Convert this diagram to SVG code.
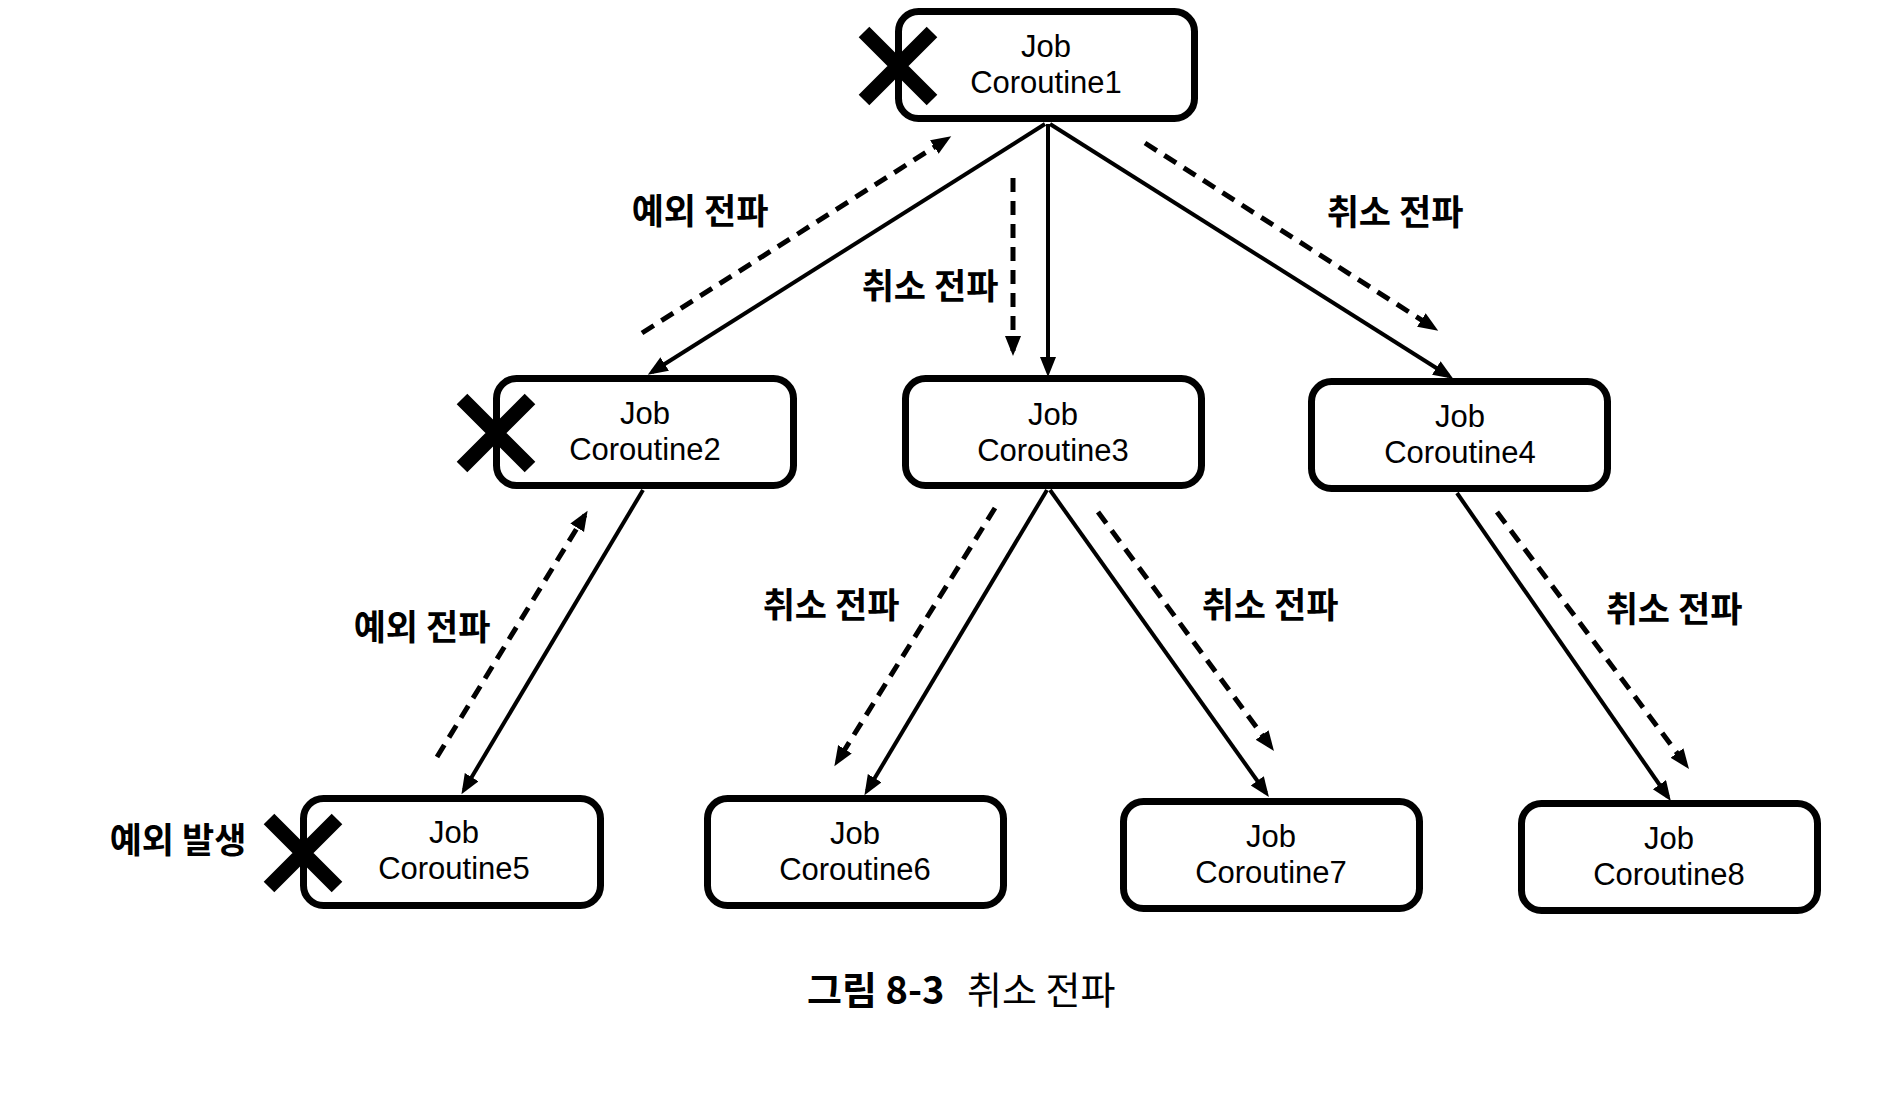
<svg xmlns="http://www.w3.org/2000/svg" width="1902" height="1096" viewBox="0 0 1902 1096">
<style>
.box{fill:#fff;stroke:#000;stroke-width:7}
.nt{font-family:"Liberation Sans",Arial,sans-serif;font-size:31px;text-anchor:middle;fill:#000}
.solid{stroke:#000;stroke-width:4;fill:none;marker-end:url(#ah)}
.dash{stroke:#000;stroke-width:5;fill:none;stroke-dasharray:14 9;marker-end:url(#ah)}
.lbl{font-family:"Noto Sans CJK KR","Noto Sans",sans-serif;font-size:35px;font-weight:bold;text-anchor:middle;fill:#000}
.x{stroke:#000;stroke-width:15;stroke-linecap:butt}
.cap{font-family:"Noto Sans CJK KR","Noto Sans",sans-serif;font-size:38px;fill:#000}
</style>
<defs>
<marker id="ah" markerUnits="userSpaceOnUse" markerWidth="22" markerHeight="18" refX="15" refY="8" orient="auto">
<path d="M0,0 L20,8 L0,16 z" fill="#000"/>
</marker>
</defs>
<rect width="1902" height="1096" fill="#fff"/>
<g id="connectors">
<line class="solid" x1="1045" y1="124" x2="652" y2="372"/>
<line class="solid" x1="1048" y1="124" x2="1048" y2="372"/>
<line class="solid" x1="1050" y1="124" x2="1449" y2="376"/>
<line class="solid" x1="643" y1="490" x2="464" y2="790"/>
<line class="solid" x1="1047" y1="490" x2="867" y2="791"/>
<line class="solid" x1="1050" y1="490" x2="1266" y2="793"/>
<line class="solid" x1="1457" y1="493" x2="1668" y2="797"/>
<line class="dash" x1="642" y1="333" x2="947" y2="139"/>
<line class="dash" x1="1013" y1="178" x2="1013" y2="351"/>
<line class="dash" x1="1145" y1="143" x2="1434" y2="328"/>
<line class="dash" x1="437" y1="757" x2="585" y2="515"/>
<line class="dash" x1="995" y1="508" x2="837" y2="762"/>
<line class="dash" x1="1098" y1="512" x2="1271" y2="747"/>
<line class="dash" x1="1497" y1="512" x2="1686" y2="765"/>
</g>
<g id="node-c1"><rect class="box" x="898.5" y="11.5" width="296" height="107" rx="20"/><text class="nt" x="1046" y="57">Job</text><text class="nt" x="1046" y="93">Coroutine1</text></g>
<g id="node-c2"><rect class="box" x="496.5" y="378.5" width="297" height="107" rx="20"/><text class="nt" x="645" y="424">Job</text><text class="nt" x="645" y="460">Coroutine2</text></g>
<g id="node-c3"><rect class="box" x="905.5" y="378.5" width="296" height="107" rx="20"/><text class="nt" x="1053" y="425">Job</text><text class="nt" x="1053" y="461">Coroutine3</text></g>
<g id="node-c4"><rect class="box" x="1311.5" y="381.5" width="296" height="107" rx="20"/><text class="nt" x="1460" y="427">Job</text><text class="nt" x="1460" y="463">Coroutine4</text></g>
<g id="node-c5"><rect class="box" x="303.5" y="798.5" width="297" height="107" rx="20"/><text class="nt" x="454" y="843">Job</text><text class="nt" x="454" y="879">Coroutine5</text></g>
<g id="node-c6"><rect class="box" x="707.5" y="798.5" width="296" height="107" rx="20"/><text class="nt" x="855" y="844">Job</text><text class="nt" x="855" y="880">Coroutine6</text></g>
<g id="node-c7"><rect class="box" x="1123.5" y="801.5" width="296" height="107" rx="20"/><text class="nt" x="1271" y="847">Job</text><text class="nt" x="1271" y="883">Coroutine7</text></g>
<g id="node-c8"><rect class="box" x="1521.5" y="803.5" width="296" height="107" rx="20"/><text class="nt" x="1669" y="849">Job</text><text class="nt" x="1669" y="885">Coroutine8</text></g>
<g id="marks">
<path class="x" d="M864,32 L932,100 M932,32 L864,100"/>
<path class="x" d="M462,399 L530,467 M530,399 L462,467"/>
<path class="x" d="M269,819 L337,887 M337,819 L269,887"/>
</g>
<g id="labels">
<text class="lbl" x="700" y="224">예외 전파</text>
<text class="lbl" x="930" y="299">취소 전파</text>
<text class="lbl" x="1395" y="225">취소 전파</text>
<text class="lbl" x="422" y="640">예외 전파</text>
<text class="lbl" x="831" y="618">취소 전파</text>
<text class="lbl" x="1270" y="618">취소 전파</text>
<text class="lbl" x="1674" y="622">취소 전파</text>
<text class="lbl" x="178" y="853">예외 발생</text>
</g>
<g id="caption">
<text class="cap" x="807" y="1004" font-weight="bold">그림 8-3</text>
<text class="cap" x="967" y="1004">취소 전파</text>
</g>
</svg>
